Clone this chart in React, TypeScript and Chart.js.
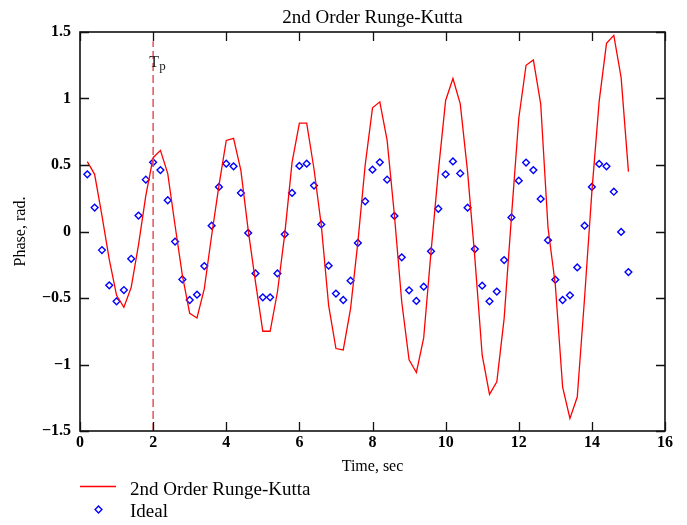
import React, { useEffect, useRef } from 'react';
import { Chart, registerables } from 'chart.js';

Chart.register(...registerables);

const chartTitle = '2nd Order Runge-Kutta';
const xAxisTitle = 'Time, sec';
const yAxisTitle = 'Phase, rad.';
const rkLabel = '2nd Order Runge-Kutta';
const idealLabel = 'Ideal';

const timeValues = [
  0.2, 0.4, 0.6, 0.8, 1.0, 1.2, 1.4, 1.6, 1.8, 2.0,
  2.2, 2.4, 2.6, 2.8, 3.0, 3.2, 3.4, 3.6, 3.8, 4.0,
  4.2, 4.4, 4.6, 4.8, 5.0, 5.2, 5.4, 5.6, 5.8, 6.0,
  6.2, 6.4, 6.6, 6.8, 7.0, 7.2, 7.4, 7.6, 7.8, 8.0,
  8.2, 8.4, 8.6, 8.8, 9.0, 9.2, 9.4, 9.6, 9.8, 10.0,
  10.2, 10.4, 10.6, 10.8, 11.0, 11.2, 11.4, 11.6, 11.8, 12.0,
  12.2, 12.4, 12.6, 12.8, 13.0, 13.2, 13.4, 13.6, 13.8, 14.0,
  14.2, 14.4, 14.6, 14.8, 15.0,
];

const rk2Phase = [
  0.525, 0.43, 0.12, -0.21, -0.48, -0.57, -0.42, -0.1, 0.27, 0.555,
  0.61, 0.435, 0.045, -0.33, -0.615, -0.65, -0.43, -0.03, 0.345, 0.685,
  0.70, 0.46, 0.01, -0.38, -0.75, -0.75, -0.455, -0.02, 0.52, 0.815,
  0.815, 0.47, 0.045, -0.555, -0.88, -0.89, -0.58, -0.08, 0.5, 0.93,
  0.975, 0.685, 0.12, -0.53, -0.965, -1.06, -0.8, -0.155, 0.45, 0.985,
  1.15, 0.96, 0.45, -0.2, -0.93, -1.225, -1.13, -0.655, 0.11, 0.85,
  1.25, 1.29, 0.96, 0.03, -0.4, -1.17, -1.405, -1.245, -0.5, 0.3,
  0.98, 1.415, 1.475, 1.157, 0.45,
];

const idealPhase = [
  0.43, 0.18, -0.14, -0.405, -0.525, -0.44, -0.205, 0.12, 0.39, 0.52,
  0.462, 0.235, -0.076, -0.36, -0.515, -0.475, -0.26, 0.044, 0.335, 0.51,
  0.49, 0.29, -0.011, -0.315, -0.495, -0.495, -0.315, -0.021, 0.29, 0.493,
  0.51, 0.345, 0.053, -0.257, -0.467, -0.515, -0.37, -0.086, 0.227, 0.465,
  0.52, 0.39, 0.117, -0.194, -0.442, -0.522, -0.415, -0.149, 0.171, 0.43,
  0.527, 0.437, 0.179, -0.132, -0.407, -0.525, -0.452, -0.215, 0.106, 0.382,
  0.518, 0.462, 0.245, -0.065, -0.362, -0.515, -0.48, -0.27, 0.044, 0.335,
  0.508, 0.49, 0.299, -0.003, -0.305,
];

const xTicks = [0, 2, 4, 6, 8, 10, 12, 14, 16];
const yTicks = [-1.5, -1, -0.5, 0, 0.5, 1, 1.5];
const tpTime = 2;
const tpTop = 1.43;
const tpLabel = 'T';
const tpSub = 'p';

const SERIF = '"Liberation Serif", "Times New Roman", serif';

function drawDiamond(ctx: CanvasRenderingContext2D, x: number, y: number, r: number) {
  ctx.beginPath();
  ctx.moveTo(x - r, y);
  ctx.lineTo(x, y - r);
  ctx.lineTo(x + r, y);
  ctx.lineTo(x, y + r);
  ctx.closePath();
  ctx.stroke();
}

const framePlugin = {
  id: 'framePlugin',
  afterDraw(chart: any) {
    const { ctx, chartArea: a, scales } = chart;
    const xs = scales.x;
    const ys = scales.y;
    ctx.save();
    // frame
    ctx.strokeStyle = '#111';
    ctx.lineWidth = 1.6;
    ctx.strokeRect(a.left, a.top, a.right - a.left, a.bottom - a.top);
    // inward ticks
    ctx.lineWidth = 1.3;
    const tl = 9;
    ctx.beginPath();
    for (const v of xTicks) {
      const px = Math.round(xs.getPixelForValue(v)) + 0.5;
      ctx.moveTo(px, a.bottom);
      ctx.lineTo(px, a.bottom - tl);
      ctx.moveTo(px, a.top);
      ctx.lineTo(px, a.top + tl);
    }
    for (const v of yTicks) {
      const py = Math.round(ys.getPixelForValue(v)) + 0.5;
      ctx.moveTo(a.left, py);
      ctx.lineTo(a.left + tl, py);
      ctx.moveTo(a.right, py);
      ctx.lineTo(a.right - tl, py);
    }
    ctx.stroke();

    ctx.fillStyle = '#000';
    // title
    ctx.font = `19px ${SERIF}`;
    ctx.textAlign = 'center';
    ctx.textBaseline = 'alphabetic';
    ctx.fillText(chartTitle, (a.left + a.right) / 2, 23);
    // x axis title
    ctx.font = `16px ${SERIF}`;
    ctx.fillText(xAxisTitle, (a.left + a.right) / 2, 471);
    // y axis title
    ctx.save();
    ctx.translate(25, (a.top + a.bottom) / 2);
    ctx.rotate(-Math.PI / 2);
    ctx.fillText(yAxisTitle, 0, 0);
    ctx.restore();

    // Tp label
    const tpx = xs.getPixelForValue(tpTime);
    ctx.textAlign = 'left';
    ctx.font = `16px ${SERIF}`;
    ctx.fillStyle = '#222';
    ctx.fillText(tpLabel, tpx - 4, 67);
    ctx.font = `13px ${SERIF}`;
    ctx.fillText(tpSub, tpx + 6, 70);

    // legend
    ctx.fillStyle = '#000';
    ctx.strokeStyle = '#ff0000';
    ctx.lineWidth = 1.3;
    ctx.beginPath();
    ctx.moveTo(80, 486.5);
    ctx.lineTo(116, 486.5);
    ctx.stroke();
    ctx.font = `19px ${SERIF}`;
    ctx.textAlign = 'left';
    ctx.fillText(rkLabel, 130, 495);
    ctx.strokeStyle = '#0000ff';
    ctx.lineWidth = 1.4;
    drawDiamond(ctx, 98.5, 509.5, 3.4);
    ctx.fillText(idealLabel, 130, 517);
    ctx.restore();
  },
};

export default function App() {
  const ref = useRef<HTMLCanvasElement | null>(null);

  useEffect(() => {
    document.body.style.margin = '0';
    const canvas = ref.current;
    if (!canvas) return;
    const rkData = timeValues.map((t, i) => ({ x: t, y: rk2Phase[i] }));
    const idealData = timeValues.map((t, i) => ({ x: t, y: idealPhase[i] }));
    const tickFont = { family: SERIF, size: 16, weight: 'bold' as const };

    const chart = new Chart(canvas, {
      type: 'scatter',
      data: {
        datasets: [
          {
            label: 'Tp',
            data: [
              { x: tpTime, y: yTicks[0] },
              { x: tpTime, y: tpTop },
            ],
            showLine: true,
            borderColor: '#e8535a',
            borderWidth: 1.5,
            borderDash: [8, 4],
            pointRadius: 0,
            fill: false,
          },
          {
            label: rkLabel,
            data: rkData,
            showLine: true,
            borderColor: '#ff0000',
            borderWidth: 1.3,
            pointRadius: 0,
            tension: 0,
            fill: false,
          },
          {
            label: idealLabel,
            data: idealData,
            showLine: false,
            pointStyle: 'rectRot',
            pointRadius: 3.4,
            pointBorderWidth: 1.4,
            borderColor: '#0000ff',
            backgroundColor: 'rgba(255,255,255,0)',
            pointBackgroundColor: 'rgba(255,255,255,0)',
            pointBorderColor: '#0000ff',
          },
        ],
      },
      options: {
        responsive: false,
        animation: false,
        layout: { padding: { left: 0, top: 32, right: 22, bottom: 0 } },
        plugins: {
          legend: { display: false },
          title: { display: false },
          tooltip: { enabled: false },
        },
        scales: {
          x: {
            type: 'linear',
            position: 'bottom',
            min: 0,
            max: 16,
            afterBuildTicks: (s: any) => {
              s.ticks = xTicks.map((v) => ({ value: v }));
            },
            afterFit: (s: any) => {
              s.height = 94;
            },
            grid: { display: false, drawTicks: false },
            border: { display: false },
            ticks: {
              font: tickFont,
              color: '#000',
              padding: 2,
              maxRotation: 0,
              autoSkip: false,
              callback: (v: any) => String(v),
            },
          },
          y: {
            type: 'linear',
            min: -1.5,
            max: 1.5,
            afterBuildTicks: (s: any) => {
              s.ticks = yTicks.map((v) => ({ value: v }));
            },
            afterFit: (s: any) => {
              s.width = 80;
            },
            grid: { display: false, drawTicks: false },
            border: { display: false },
            ticks: {
              font: tickFont,
              color: '#000',
              padding: 9,
              autoSkip: false,
              callback: (v: any) => (Number(v) < 0 ? '\u2212' + String(Math.abs(Number(v))) : String(v)),
            },
          },
        },
      },
      plugins: [framePlugin],
    });
    return () => chart.destroy();
  }, []);

  return (
    <div style={{ width: 687, height: 525 }}>
      <canvas ref={ref} width={687} height={525} style={{ display: 'block' }} />
    </div>
  );
}
